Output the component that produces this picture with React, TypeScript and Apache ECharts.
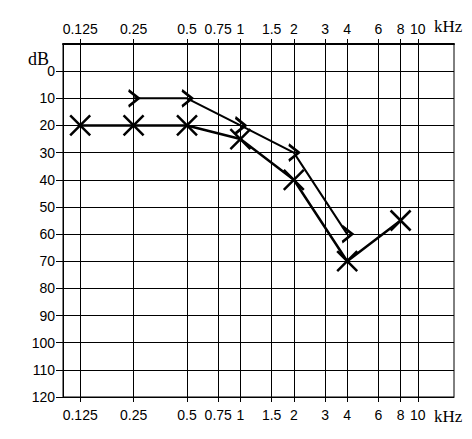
import React, { useEffect, useRef } from 'react';
import * as echarts from 'echarts';

// Frequency axis (kHz), drawn on a log2 scale
const freqTicks = [0.125, 0.25, 0.5, 0.75, 1, 1.5, 2, 3, 4, 6, 8, 10];
const freqLabels = ['0.125', '0.25', '0.5', '0.75', '1', '1.5', '2', '3', '4', '6', '8', '10'];
const freqMin = 0.1;
const freqMax = 16;

// Hearing level axis (dB)
const dbTicks = [0, 10, 20, 30, 40, 50, 60, 70, 80, 90, 100, 110, 120];
const dbMin = -10;
const dbMax = 120;

// "X" series
const airFreqs = [0.125, 0.25, 0.5, 1, 2, 4, 8];
const airDb = [20, 20, 20, 25, 40, 70, 55];

// ">" series
const boneFreqs = [0.25, 0.5, 1, 2, 4];
const boneDb = [10, 10, 20, 30, 60];

const L = (f: number) => Math.log2(f);

const fmtFreq = (v: number) => {
  for (let i = 0; i < freqTicks.length; i++) {
    if (Math.abs(L(freqTicks[i]) - v) < 1e-6) return freqLabels[i];
  }
  return '';
};

const labelFont = { color: '#000', fontFamily: 'Liberation Sans', fontSize: 14 };

const mkX = (position: 'top' | 'bottom') => ({
  type: 'value',
  position,
  min: L(freqMin),
  max: L(freqMax),
  axisLine: { show: true, onZero: false, lineStyle: { color: '#000', width: position === 'top' ? 2 : 1 } },
  axisTick: {
    show: true,
    inside: false,
    length: 5,
    customValues: freqTicks.map(L),
    lineStyle: { color: '#000', width: 1 },
  },
  axisLabel: {
    show: true,
    customValues: freqTicks.map(L),
    formatter: fmtFreq,
    margin: position === 'top' ? 8 : 11,
    ...labelFont,
  },
  splitLine: { show: position === 'bottom', lineStyle: { color: '#000', width: 1 } },
});

export default function App() {
  const ref = useRef<HTMLDivElement>(null);
  useEffect(() => {
    if (!ref.current) return;
    const chart = echarts.init(ref.current, undefined, { renderer: 'svg' });
    chart.setOption({
      animation: false,
      backgroundColor: '#fff',
      grid: { left: 63, right: 18, top: 44, bottom: 42, show: true, borderColor: '#000', borderWidth: 1 },
      xAxis: [mkX('bottom'), mkX('top')],
      yAxis: {
        type: 'value',
        inverse: true,
        min: dbMin,
        max: dbMax,
        interval: 10,
        axisLine: { show: true, onZero: false, lineStyle: { color: '#000', width: 1 } },
        axisTick: { show: true, length: 7, customValues: dbTicks, lineStyle: { color: '#000' } },
        axisLabel: { show: true, customValues: dbTicks, margin: 8, ...labelFont },
        splitLine: { show: true, lineStyle: { color: '#000', width: 1 } },
      },
      graphic: [
        { type: 'text', x: 28, y: 50, style: { text: 'dB', fill: '#000', font: '18px "Liberation Serif"' } },
        { type: 'text', x: 434, y: 18, style: { text: 'kHz', fill: '#000', font: '17px "Liberation Serif"' } },
        { type: 'text', x: 434, y: 408, style: { text: 'kHz', fill: '#000', font: '17px "Liberation Serif"' } },
      ],
      series: [
        {
          type: 'line',
          xAxisIndex: 0,
          yAxisIndex: 0,
          data: airFreqs.map((f, i) => [L(f), airDb[i]]),
          symbol: 'path://M0,0L20,20M20,0L0,20',
          symbolSize: 20,
          showAllSymbol: true,
          itemStyle: { color: 'rgba(0,0,0,0)', borderColor: '#000', borderWidth: 2.5 },
          lineStyle: { color: '#000', width: 2.5 },
          z: 3,
        },
        {
          type: 'line',
          xAxisIndex: 0,
          yAxisIndex: 0,
          data: boneFreqs.map((f, i) => [L(f), boneDb[i]]),
          symbol: 'path://M0,0L10,8L0,16',
          symbolSize: [10, 16],
          showAllSymbol: true,
          itemStyle: { color: 'rgba(0,0,0,0)', borderColor: '#000', borderWidth: 2.5 },
          lineStyle: { color: '#000', width: 2 },
          z: 3,
        },
      ],
    });
    return () => chart.dispose();
  }, []);
  return <div ref={ref} style={{ position: 'absolute', left: 0, top: 0, width: 472, height: 439 }} />;
}
